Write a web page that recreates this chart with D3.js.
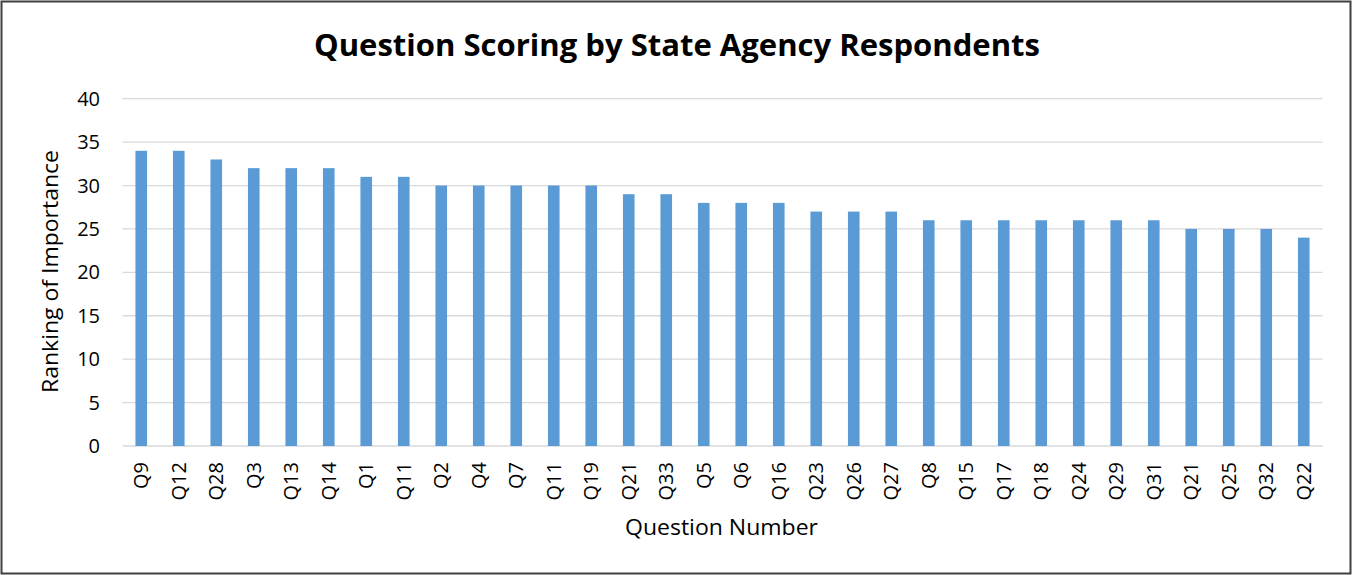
<!DOCTYPE html>
<html><head><meta charset="utf-8">
<script src="https://cdn.jsdelivr.net/npm/d3@7"></script>
<style>html,body{margin:0;padding:0;background:#fff;}</style>
</head><body>
<script>
const categories = ["Q9","Q12","Q28","Q3","Q13","Q14","Q1","Q11","Q2","Q4","Q7","Q11","Q19","Q21","Q33","Q5","Q6","Q16","Q23","Q26","Q27","Q8","Q15","Q17","Q18","Q24","Q29","Q31","Q21","Q25","Q32","Q22"];
const values = [34,34,33,32,32,32,31,31,30,30,30,30,30,29,29,28,28,28,27,27,27,26,26,26,26,26,26,26,25,25,25,24];
const yTicks = [0,5,10,15,20,25,30,35,40];
const title = "Question Scoring by State Agency Respondents";
const xTitle = "Question Number";
const yTitle = "Ranking of Importance";

const W = 1352, H = 575;
const font = "'Open Sans', sans-serif";
const svg = d3.select("body").append("svg").attr("width", W).attr("height", H);
svg.append("rect").attr("x",1.5).attr("y",1.5).attr("width",W-3).attr("height",H-3)
  .attr("fill","#fff").attr("stroke","#404040").attr("stroke-width",2);

const idx = d3.range(categories.length);
const x = d3.scaleBand().domain(idx).range([122.5, 1322.5]).paddingInner(0.69).paddingOuter(0.345);
const y = d3.scaleLinear().domain([0,40]).range([446, 98.7]);

svg.append("g").selectAll("line").data(yTicks).join("line")
  .attr("x1",122.5).attr("x2",1322.5).attr("y1",d=>y(d)).attr("y2",d=>y(d))
  .attr("stroke","#d9d9d9").attr("stroke-width",1.3);

svg.append("g").selectAll("rect").data(idx).join("rect")
  .attr("x",i=>x(i)).attr("width",x.bandwidth())
  .attr("y",i=>y(values[i])).attr("height",i=>y(0)-y(values[i]))
  .attr("fill","#5b9bd5");

svg.append("g").selectAll("text").data(yTicks).join("text")
  .attr("x",100).attr("y",d=>y(d)).attr("dy","0.35em").attr("text-anchor","end")
  .attr("font-family",font).attr("font-size",20).attr("fill","#000").text(d=>d);

svg.append("g").selectAll("text").data(idx).join("text")
  .attr("transform",i=>`translate(${x(i)+x.bandwidth()/2+7},462) rotate(-90)`)
  .attr("text-anchor","end").attr("font-family",font).attr("font-size",20).attr("fill","#000")
  .text(i=>categories[i]);

svg.append("text").attr("x",677).attr("y",56).attr("text-anchor","middle")
  .attr("font-family",font).attr("font-weight","bold").attr("font-size",31).attr("fill","#000")
  .attr("textLength",726).attr("lengthAdjust","spacingAndGlyphs").text(title);

svg.append("text").attr("x",721.5).attr("y",535).attr("text-anchor","middle")
  .attr("font-family",font).attr("font-size",21).attr("fill","#000")
  .attr("textLength",193).attr("lengthAdjust","spacingAndGlyphs").text(xTitle);

svg.append("text").attr("transform","translate(58,271.5) rotate(-90)").attr("text-anchor","middle")
  .attr("font-family",font).attr("font-size",21).attr("fill","#000")
  .attr("textLength",243).attr("lengthAdjust","spacingAndGlyphs").text(yTitle);
</script>
</body></html>
